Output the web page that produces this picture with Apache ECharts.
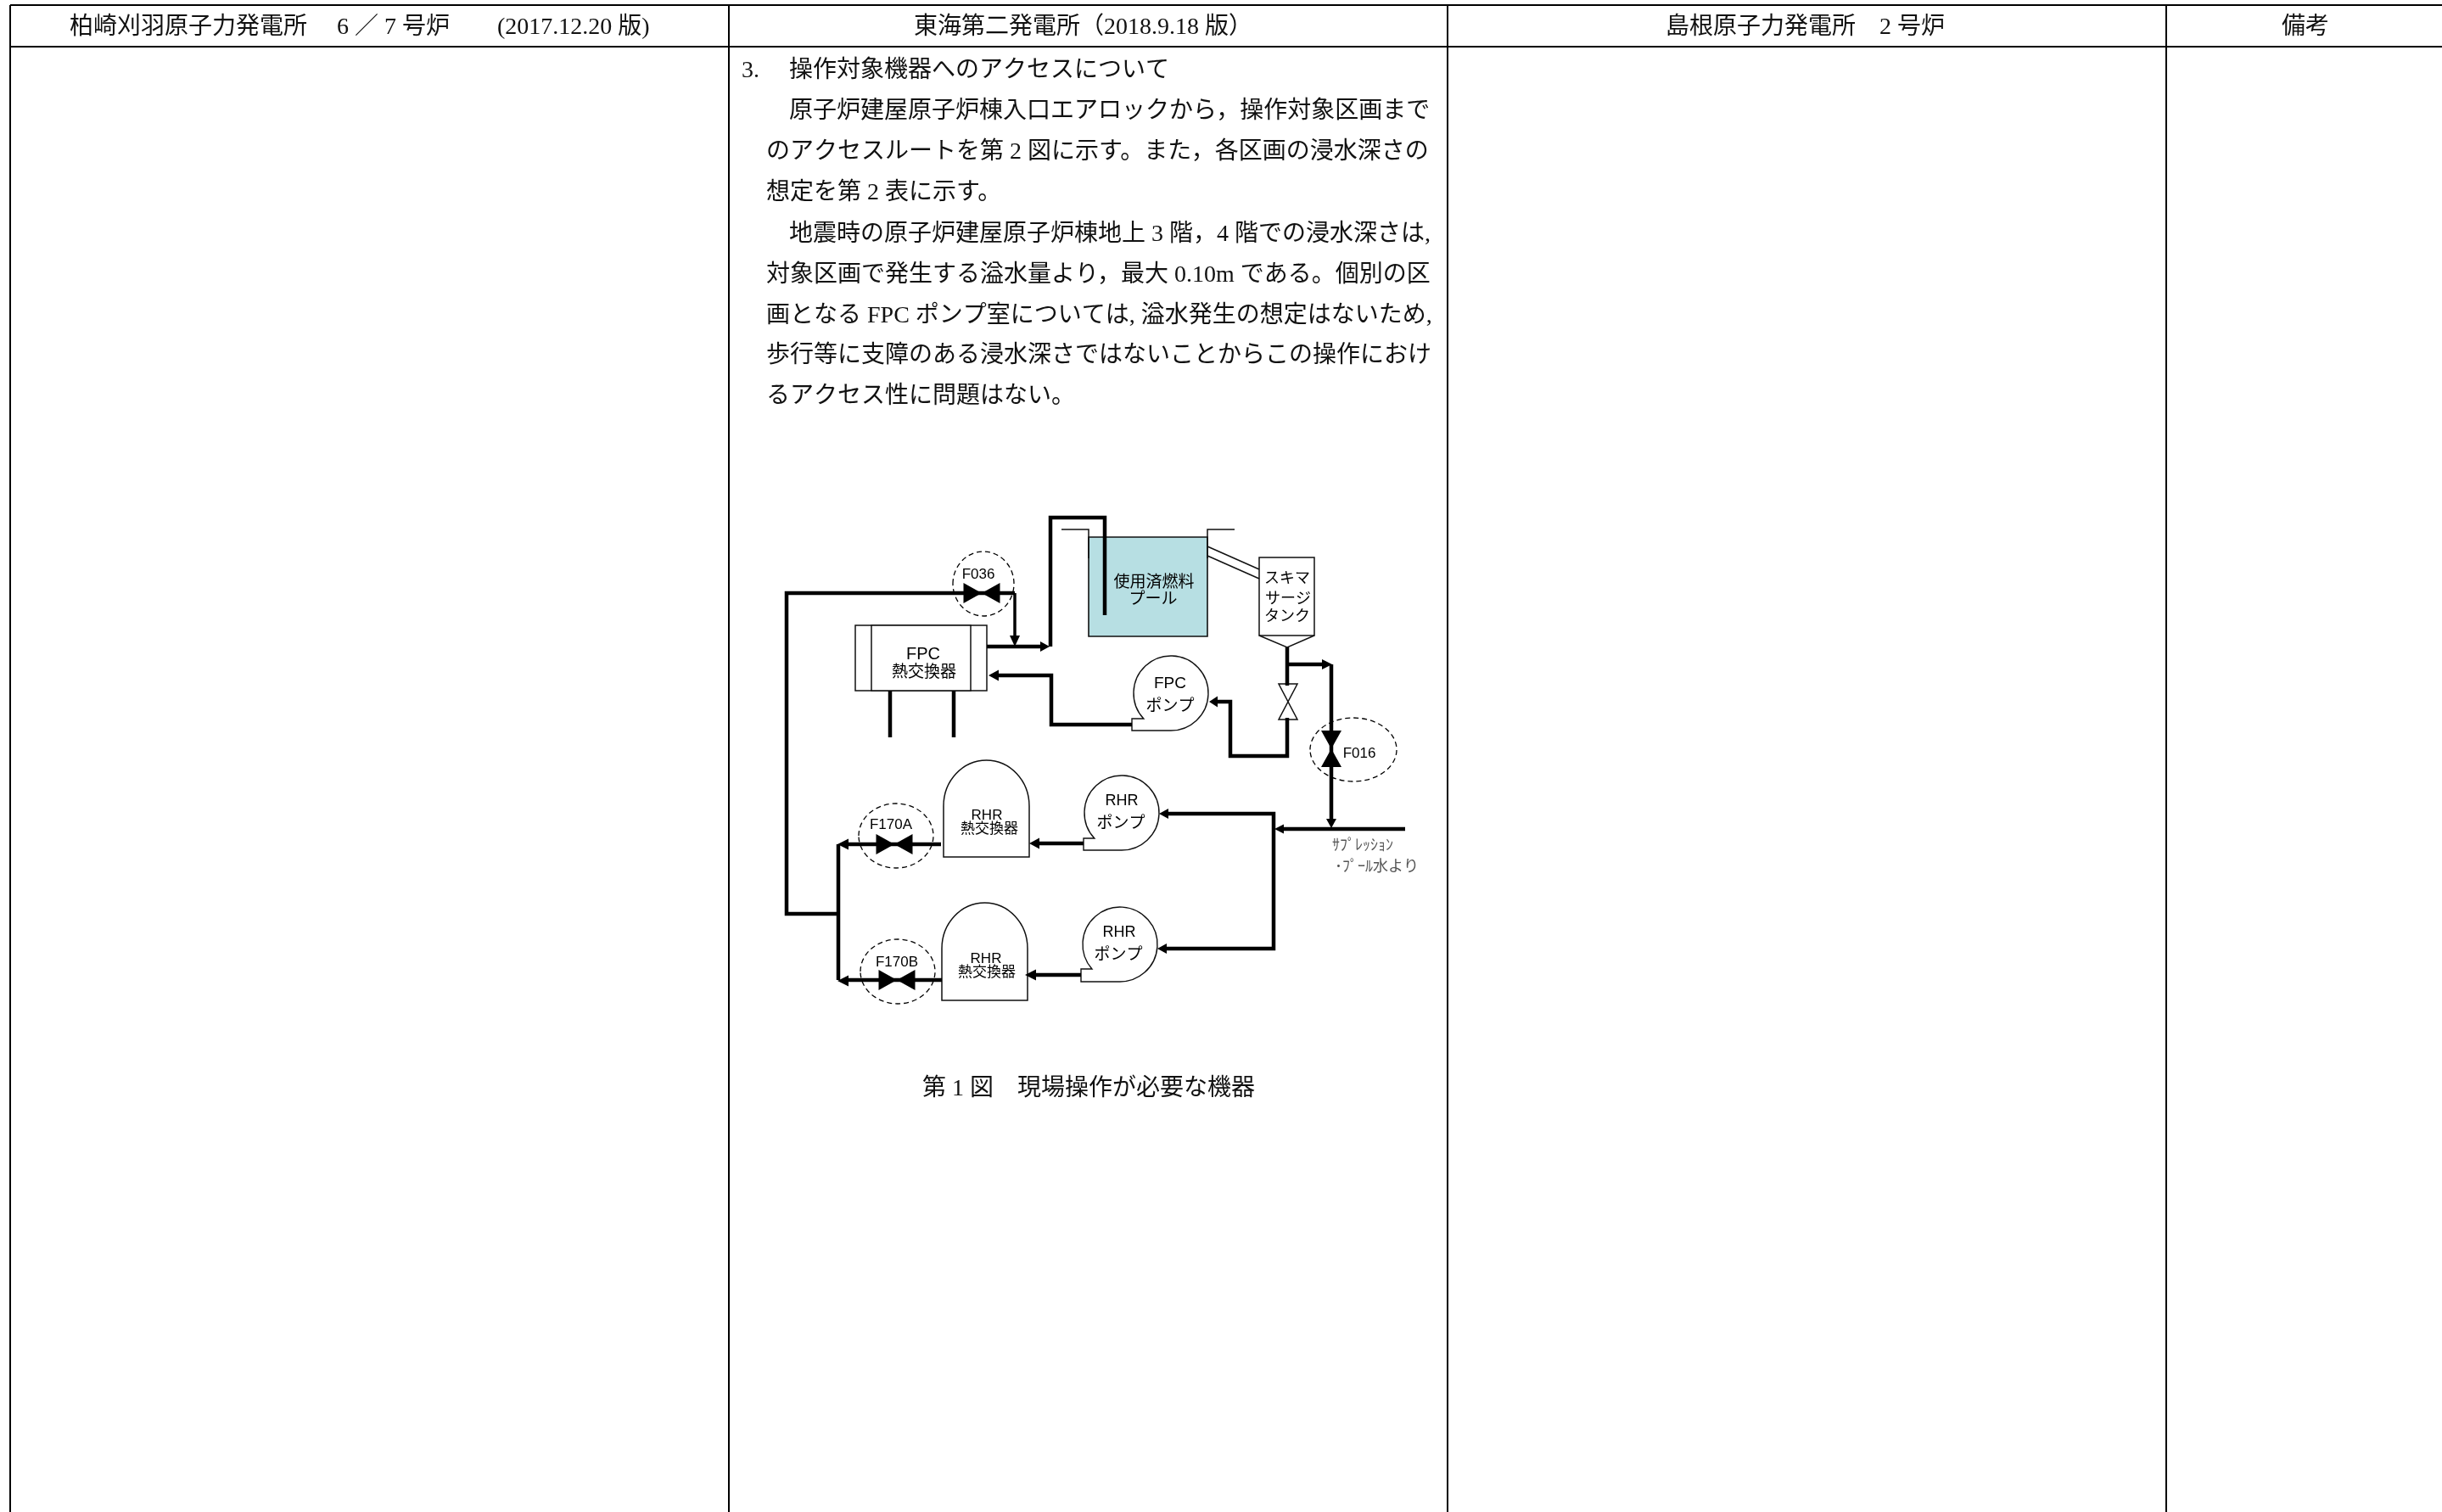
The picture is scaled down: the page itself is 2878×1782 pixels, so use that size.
<!DOCTYPE html>
<html>
<head>
<meta charset="utf-8">
<style>
html,body{margin:0;padding:0;background:#fff}
#main{width:2878px;height:1782px}
</style>
<script src="https://cdn.jsdelivr.net/npm/echarts@6/dist/echarts.min.js"></script>
</head>
<body>
<div id="main"></div>
<script>
// table
var tableRules=[
    [[12,6],[2878,6]],
    [[12,55],[2878,55]],
    [[12,6],[12,1782]],
    [[859,6],[859,1782]],
    [[1706,6],[1706,1782]],
    [[2553,6],[2553,1782]]
];
var headerTexts=[
    [82,33,'柏崎刈羽原子力発電所　 6 ／ 7 号炉　    (2017.12.20 版)'],
    [1077,33,'東海第二発電所（2018.9.18 版）'],
    [1963,33,'島根原子力発電所　2 号炉'],
    [2689,33,'備考']
];
var bodyTexts=[
    [874,84,'3.'],
    [930,84,'操作対象機器へのアクセスについて'],
    [930,132,'原子炉建屋原子炉棟入口エアロックから，操作対象区画まで'],
    [903,180,'のアクセスルートを第 2 図に示す。また，各区画の浸水深さの'],
    [903,228,'想定を第 2 表に示す。'],
    [930,277,'地震時の原子炉建屋原子炉棟地上 3 階，4 階での浸水深さは,'],
    [903,325,'対象区画で発生する溢水量より，最大 0.10m である。個別の区'],
    [903,373,'画となる FPC ポンプ室については, 溢水発生の想定はないため,'],
    [903,420,'歩行等に支障のある浸水深さではないことからこの操作におけ'],
    [903,468,'るアクセス性に問題はない。']
];
var captionTexts=[
    [1087,1284,'第 1 図　現場操作が必要な機器']
];

// diagram: thick pipes
var thickPipes=[
    [[1196,699],[927,699],[927,1077],[988,1077]],
    [[988,995],[988,1155]],
    [[1109,995],[1000,995]],
    [[1110,1155],[1000,1155]],
    [[1277,994],[1225,994]],
    [[1274,1149],[1221,1149]],
    [[1377,959],[1501,959],[1501,1118],[1375,1118]],
    [[1656,977],[1513,977]],
    [[1569,783],[1569,965]],
    [[1517,763],[1517,808]],
    [[1517,846],[1517,891],[1450,891],[1450,827],[1435,827]],
    [[1517,783],[1558,783]],
    [[1334,854],[1239,854],[1239,796],[1177,796]],
    [[1049,814],[1049,869]],
    [[1124,814],[1124,869]],
    [[1163,762],[1226,762]],
    [[1238,762],[1238,610],[1302,610],[1302,725]]
];
var mediumPipes=[
    [[1196,699],[1196,749]]
];
var thinLines=[
    [[1251,624],[1283,624],[1283,658]],
    [[1423,658],[1423,624],[1455,624]],
    [[1423,644],[1484,671]],
    [[1423,655],[1484,682]]
];
// tip x, tip y, base x, base y, half width
var arrows=[
    [987,995,1000,995,6.5],
    [987,1156,1000,1156,6.5],
    [1213,994,1225,994,6.5],
    [1208,1149,1221,1149,6.5],
    [1366,959,1377,959,6],
    [1364,1118,1375,1118,6],
    [1502,977,1513,977,5.5],
    [1569,976,1569,965,6],
    [1570,783,1558,783,6],
    [1425,827,1435,827,6.5],
    [1165,796,1177,796,6.5],
    [1196,762,1196,749,6],
    [1237,762,1226,762,6]
];
// centre x, centre y, half width, half height
var valvesAcross=[
    [1157,699,21.5,12],
    [1054,995,21.5,12],
    [1057,1155,21.5,12]
];
var valvesUpright=[
    [1569,882.5,12,21.5]
];
var openValves=[
    [1518,827,11,21]
];
// centre x, centre y, radius x, radius y
var dashedRings=[
    [1159,688,36,38],
    [1056,985,44,38],
    [1058,1145,44,38],
    [1595,883.5,51,37.5]
];
// left, top, right, bottom
var poolBox=[[1283,633,1423,750]];
var plainBoxes=[
    [1008,737,1163,814],
    [1027,737,1144,814],
    [1484,657,1549,749]
];
var hopper=[[[1484,749],[1517,763],[1549,749]]];
// left, right, bottom, shoulder y, top y
var domes=[
    [1112,1213,1010,950,896],
    [1110,1211,1179,1118,1064]
];
// centre x, centre y, radius, outlet left, outlet top
var pumps=[
    [1380,817,44,1334,847],
    [1322,958,44,1277,988],
    [1320,1113,44,1274,1142]
];
var smallLabels=[
    [1153,677,'F036',17],
    [1050,972,'F170A',17],
    [1057,1134,'F170B',17],
    [1602,888,'F016',17],
    [1163,961,'RHR',17],
    [1166,977,'熱交換器',17],
    [1162,1130,'RHR',17],
    [1163,1146,'熱交換器',17],
    [1088,771,'FPC',20],
    [1089,793,'熱交換器',19],
    [1379,806,'FPC',19],
    [1379,833,'ポンプ',19],
    [1322,944,'RHR',18],
    [1321,971,'ポンプ',19],
    [1319,1099,'RHR',18],
    [1318,1126,'ポンプ',19],
    [1360,687,'使用済燃料',19],
    [1359,707,'プール',19],
    [1517,682,'スキマ',18],
    [1518,706,'サージ',18],
    [1517,727,'タンク',18]
];
var noteTexts=[
    [1570,997,'ｻﾌﾟﾚｯｼｮﾝ'],
    [1573,1022,'･ﾌﾟｰﾙ水より']
];

var mincho='"Liberation Serif","Noto Sans CJK JP"';
var gothic='"Liberation Sans","Noto Sans CJK JP"';

function lineSeries(list,width,color){
    return list.map(function(points){
        return {
            type:'line',
            data:points,
            symbol:'none',
            silent:true,
            animation:false,
            lineStyle:{width:width,color:color,join:'miter',cap:'butt'}
        }
    })
}
function shapeSeries(list,draw){
    return {
        type:'custom',
        data:list.map(function(item,i){return [i]}),
        coordinateSystem:'cartesian2d',
        silent:true,
        animation:false,
        clip:false,
        renderItem:function(params,api){
            return draw(list[params.dataIndex],api)
        }
    }
}
function poly(api,points,style){
    return {
        type:'polygon',
        shape:{points:points.map(function(p){return api.coord(p)})},
        style:style
    }
}
function boxDraw(style){
    return function(b,api){
        return poly(api,[[b[0],b[1]],[b[2],b[1]],[b[2],b[3]],[b[0],b[3]]],style)
    }
}
function textSeries(list,font,align,color){
    return shapeSeries(list,function(t,api){
        var c=api.coord([t[0],t[1]]);
        return {
            type:'text',
            style:{
                x:c[0],y:c[1],text:t[2],
                font:(t[3]||font.size)+'px '+font.family,
                fill:color,align:align,verticalAlign:'middle'
            }
        }
    })
}
function arrowDraw(a,api){
    var dx=a[2]-a[0],dy=a[3]-a[1];
    var len=Math.sqrt(dx*dx+dy*dy);
    var nx=-dy/len*a[4],ny=dx/len*a[4];
    return poly(api,[[a[0],a[1]],[a[2]+nx,a[3]+ny],[a[2]-nx,a[3]-ny]],{fill:'#000'})
}
function acrossDraw(v,api){
    return poly(api,[[v[0]-v[2],v[1]-v[3]],[v[0]+v[2],v[1]+v[3]],[v[0]+v[2],v[1]-v[3]],[v[0]-v[2],v[1]+v[3]]],{fill:'#000'})
}
function uprightDraw(style){
    return function(v,api){
        return poly(api,[[v[0]-v[2],v[1]-v[3]],[v[0]+v[2],v[1]-v[3]],[v[0]-v[2],v[1]+v[3]],[v[0]+v[2],v[1]+v[3]]],style)
    }
}
function ringDraw(r,api){
    var c=api.coord([r[0],r[1]]);
    var d='M'+(c[0]-r[2])+' '+c[1]+'A'+r[2]+' '+r[3]+' 0 1 1 '+(c[0]+r[2])+' '+c[1]+'A'+r[2]+' '+r[3]+' 0 1 1 '+(c[0]-r[2])+' '+c[1]+'Z';
    return {type:'path',shape:{pathData:d},style:{fill:null,stroke:'#000',lineWidth:1.3,lineDash:[6,4]}}
}
function domeDraw(b,api){
    var rx=(b[1]-b[0])/2,ry=b[3]-b[4];
    var l=api.coord([b[0],b[2]]),s=api.coord([b[1],b[3]]);
    var d='M'+l[0]+' '+l[1]+'L'+l[0]+' '+s[1]+'A'+rx+' '+ry+' 0 0 1 '+s[0]+' '+s[1]+'L'+s[0]+' '+l[1]+'Z';
    return {type:'path',shape:{pathData:d},style:{fill:'#fff',stroke:'#111',lineWidth:1.5}}
}
function pumpDraw(p,api){
    var c=api.coord([p[0],p[1]]),o=api.coord([p[3],p[4]]);
    var r=p[2],up=o[1]-c[1];
    var nx=c[0]-Math.sqrt(r*r-up*up);
    var d='M'+nx+' '+o[1]+'A'+r+' '+r+' 0 1 1 '+c[0]+' '+(c[1]+r)+'L'+o[0]+' '+(c[1]+r)+'L'+o[0]+' '+o[1]+'Z';
    return {type:'path',shape:{pathData:d},style:{fill:'#fff',stroke:'#111',lineWidth:1.4}}
}

var thinBox={fill:'#fff',stroke:'#111',lineWidth:1.5};
var series=[].concat(
    shapeSeries(poolBox,boxDraw({fill:'#b7dfe3',stroke:'#111',lineWidth:1.6})),
    lineSeries(thinLines,1.5,'#111'),
    lineSeries(thickPipes,4.5,'#000'),
    lineSeries(mediumPipes,3.5,'#000'),
    shapeSeries(plainBoxes,boxDraw(thinBox)),
    lineSeries(hopper,1.5,'#111'),
    shapeSeries(domes,domeDraw),
    shapeSeries(pumps,pumpDraw),
    shapeSeries(arrows,arrowDraw),
    shapeSeries(valvesAcross,acrossDraw),
    shapeSeries(valvesUpright,uprightDraw({fill:'#000'})),
    shapeSeries(openValves,uprightDraw(thinBox)),
    shapeSeries(dashedRings,ringDraw),
    textSeries(smallLabels,{size:17,family:gothic},'center','#000'),
    textSeries(noteTexts,{size:18,family:mincho},'left','#555'),
    lineSeries(tableRules,2,'#000'),
    textSeries(headerTexts,{size:28,family:mincho},'left','#111'),
    textSeries(bodyTexts,{size:28,family:mincho},'left','#111'),
    textSeries(captionTexts,{size:28,family:mincho},'left','#111')
);

var chart=echarts.init(document.getElementById('main'));
chart.setOption({
    backgroundColor:'#fff',
    animation:false,
    grid:{left:0,right:0,top:0,bottom:0},
    xAxis:{type:'value',min:0,max:2878,show:false},
    yAxis:{type:'value',min:0,max:1782,inverse:true,show:false},
    series:series
});
</script>
</body>
</html>
